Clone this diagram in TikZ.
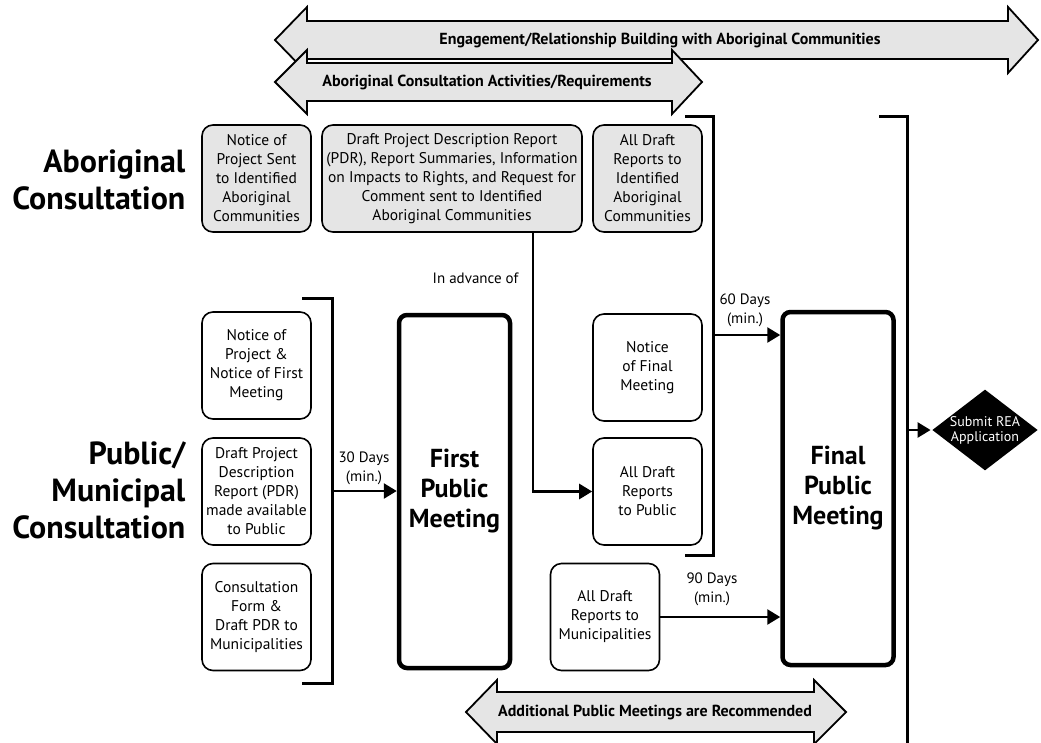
\documentclass[tikz,border=0pt]{standalone}
\usepackage{fontspec}
\setmainfont{PT Sans}
\usetikzlibrary{positioning, arrows.meta, shapes.geometric}

\begin{document}
\begin{tikzpicture}[x=1pt, y=-1pt, ->, >={Triangle[length=13pt, width=15pt]}, line width=2.6pt,
    box/.style={draw, rounded corners=11pt, align=center, line width=1.6pt, inner sep=2pt,
      minimum width=109pt, minimum height=107pt, font=\fontsize{15.5}{19}\selectfont},
    grey box/.style={box, fill=gray!20},
    meeting/.style={draw, rounded corners=8pt, line width=4.5pt, align=center,
      minimum width=111pt, minimum height=353pt, font=\fontsize{26}{30}\selectfont\bfseries},
    heading/.style={align=right, anchor=east, font=\fontsize{32}{37}\selectfont\bfseries},
    banner/.style={-, draw, fill=gray!20, line width=1.8pt},
    banner text/.style={font=\fontsize{16}{18}\selectfont\bfseries},
    days/.style={align=center, font=\fontsize{15}{19}\selectfont},
    bracket/.style={-, line width=3pt}]

  \useasboundingbox (0,0) rectangle (1041,742);

  % Banners across the top
  \draw[banner] (275,40) -- (307,7) -- (307,21) -- (1008,21) -- (1008,7) -- (1038,40)
    -- (1008,73) -- (1008,59) -- (307,59) -- (307,73) -- cycle;
  \node[banner text] (engage) at (660,40) {Engagement/Relationship Building with Aboriginal Communities};
  \draw[banner] (275,82) -- (307,50) -- (307,63) -- (672,63) -- (672,50) -- (702,82)
    -- (672,114) -- (672,101) -- (307,101) -- (307,114) -- cycle;
  \node[banner text] (activities) at (487,82) {Aboriginal Consultation Activities/Requirements};

  % Aboriginal consultation row
  \node[heading] (abhead) at (190,180) {Aboriginal\\Consultation};
  \node[grey box] (agr1) at (256.5,178.5) {Notice of\\Project Sent\\to Identified\\Aboriginal\\Communities};
  \node[grey box, minimum width=260pt] (agr2) at (452,178.5) {Draft Project Description Report\\(PDR), Report Summaries, Information\\on Impacts to Rights, and Request for\\Comment sent to Identified\\Aboriginal Communities};
  \node[grey box] (agr3) at (647.5,178.5) {All Draft\\Reports to\\Identified\\Aboriginal\\Communities};

  % Public/municipal consultation column
  \node[heading] (pubhead) at (190,490) {Public/\\Municipal\\Consultation};
  \node[box] (pub1) at (256.5,365.5) {Notice of\\Project \&\\Notice of First\\Meeting};
  \node[box] (pub2) at (256.5,491.5) {Draft Project\\Description\\Report (PDR)\\made available\\to Public};
  \node[box] (pub3) at (256.5,617) {Consultation\\Form \&\\Draft PDR to\\Municipalities};

  % Meetings
  \node[meeting] (first) at (454.5,491.5) {First\\Public\\Meeting};
  \node[meeting] (final) at (838,488.5) {Final\\Public\\Meeting};

  % Boxes before the final meeting
  \node[box] (nfm) at (647.5,367.5) {Notice\\of Final\\Meeting};
  \node[box] (drp) at (647.5,491.5) {All Draft\\Reports\\to Public};
  \node[box] (muni) at (605,617) {All Draft\\Reports to\\Municipalities};

  \node[diamond, fill=black, text=white, inner sep=0pt, aspect=1.3, align=center,
    font=\fontsize{14}{15}\selectfont] (submit) at (985,430) {Submit REA\\Application};

  % Brackets
  \draw[bracket] (302,298) -- (332,298) -- (332,683) -- (302,683);
  \draw[bracket] (685,116) -- (713,116) -- (713,555) -- (685,555);
  \draw[bracket] (879,116) -- (907,116) -- (907,745);
  \coordinate (b30) at (332,491);
  \coordinate (b60) at (713,335);
  \coordinate (bsub) at (907,430);
  \coordinate (adv) at (533,233);

  % Connectors
  \draw (b30) -- (b30 -| first.west);
  \draw (adv) |- (drp.west);
  \draw (b60) -- (b60 -| final.west);
  \draw (muni.east) -- (muni.east -| final.west);
  \draw (bsub) -- (submit.west);

  \node[days] (d30) at (364,468) {30 Days\\(min.)};
  \node[days] (d60) at (745,310) {60 Days\\(min.)};
  \node[days] (d90) at (712,589) {90 Days\\(min.)};
  \node[days, anchor=east] (inadv) at (523,278) {In advance of};

  % Banner at the bottom
  \draw[banner] (466,712) -- (497,680) -- (497,692) -- (814,692) -- (814,680) -- (846,712)
    -- (814,744) -- (814,732) -- (497,732) -- (497,744) -- cycle;
  \node[banner text] (additional) at (655,712) {Additional Public Meetings are Recommended};
\end{tikzpicture}
\end{document}
